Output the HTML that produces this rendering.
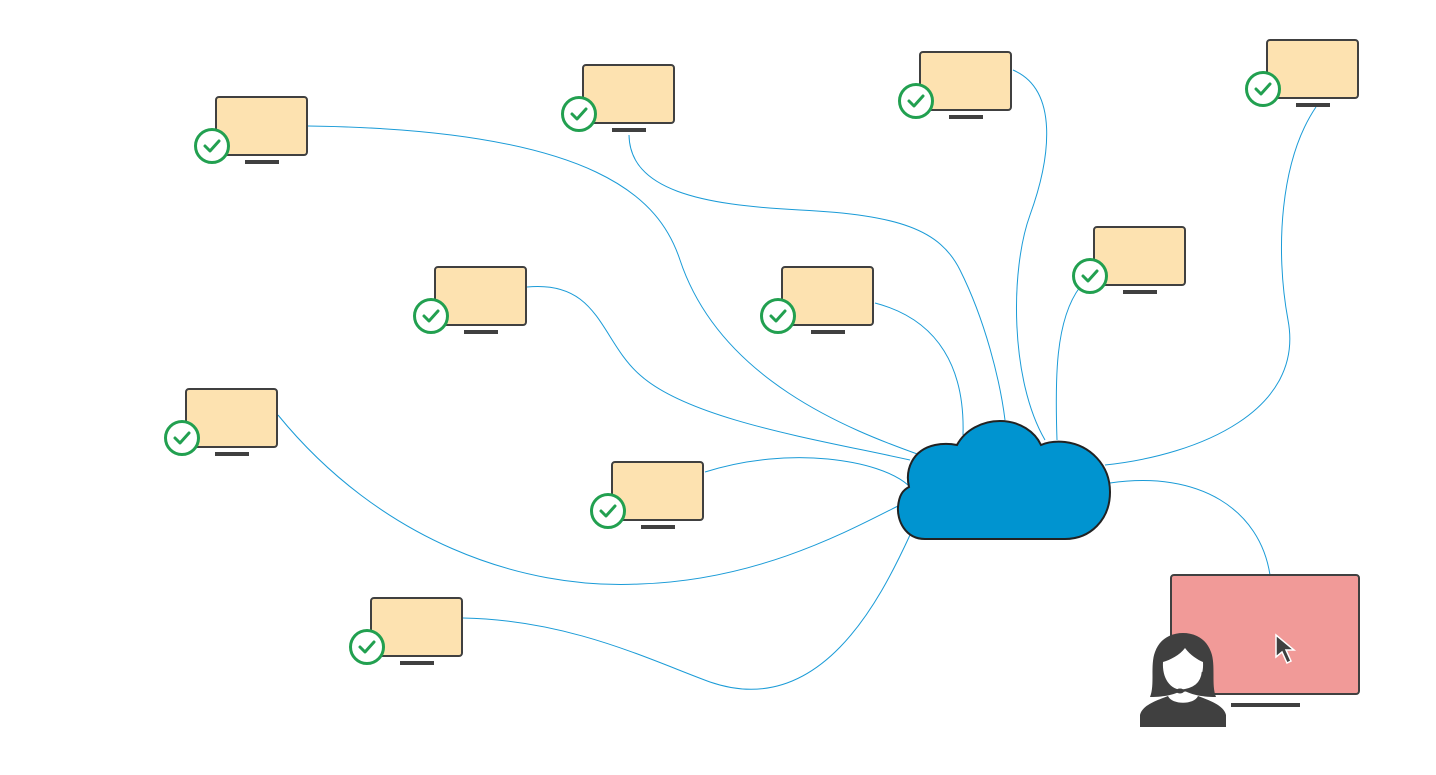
<!DOCTYPE html>
<html><head><style>html,body{margin:0;padding:0;background:#fff}svg{display:block}</style></head><body>
<svg width="1436" height="775" viewBox="0 0 1436 775" xmlns="http://www.w3.org/2000/svg">
<defs>
<g id="mon">
<rect x="1" y="1" width="91" height="58" rx="3" fill="#fde2b0" stroke="#404040" stroke-width="2"/>
<rect x="30" y="64" width="34" height="4" fill="#404040"/>
<circle cx="-3" cy="50" r="16.5" fill="#fff" stroke="#22a050" stroke-width="3"/>
<path d="M-10 50 L-5 55 L4 45" fill="none" stroke="#22a050" stroke-width="3" stroke-linecap="round" stroke-linejoin="round"/>
</g>
</defs>
<g fill="none" stroke="#1a9bd7" stroke-width="1">
<path d="M308 126 C600 130 660 200 680 260 C720 380 850 430 920 455"/>
<path d="M629 135 C630 190 700 205 800 210 C900 215 940 230 960 270 C985 320 1000 380 1005 420"/>
<path d="M1013 70 C1060 90 1050 160 1030 215 C1010 270 1010 380 1045 440"/>
<path d="M1316 107 C1280 160 1275 250 1288 320 C1305 410 1200 455 1105 465"/>
<path d="M1080 287 C1055 320 1055 380 1057 440"/>
<path d="M875 303 C940 320 965 370 963 435"/>
<path d="M527 287 C600 280 600 340 640 375 C690 420 820 440 910 460"/>
<path d="M278 415 C380 540 520 590 640 584 C760 580 850 530 900 505"/>
<path d="M705 472 C790 445 880 460 908 485"/>
<path d="M463 618 C570 620 650 660 710 682 C820 720 880 600 910 535"/>
<path d="M1110 483 C1200 470 1260 510 1270 575"/>
</g>
<path d="M925 539 C905 539 897 520 898 507 C899 495 903 490 909 487 C905 470 912 450 935 445 C945 443 952 444 957 445 C965 430 982 421 1000 421 C1020 421 1035 432 1041 445 C1048 442 1055 441 1065 442 C1090 445 1110 465 1110 492 C1110 520 1090 539 1065 539 Z" fill="#0094d0" stroke="#222" stroke-width="2"/>
<use href="#mon" x="215" y="96"/>
<use href="#mon" x="582" y="64"/>
<use href="#mon" x="919" y="51"/>
<use href="#mon" x="1266" y="39"/>
<use href="#mon" x="1093" y="226"/>
<use href="#mon" x="781" y="266"/>
<use href="#mon" x="434" y="266"/>
<use href="#mon" x="185" y="388"/>
<use href="#mon" x="611" y="461"/>
<use href="#mon" x="370" y="597"/>
<rect x="1171" y="575" width="188" height="119" rx="3" fill="#f19a98" stroke="#404040" stroke-width="2"/>
<rect x="1231" y="703" width="69" height="4" fill="#404040"/>
<path d="M1276 635 L1276 657 L1282 652 L1287 663 L1291 661 L1286 650 L1294 650 Z" fill="#404040" stroke="#fff" stroke-width="1.5"/>
<path d="M1140 727 L1140 715 C1142 705 1158 700 1168 696 L1198 696 C1208 700 1224 705 1226 715 L1226 727 Z" fill="#404040"/>
<path d="M1168 696 C1172 705 1194 705 1198 696 L1192 688 L1174 688 Z" fill="#fff"/>
<path d="M1150 697 C1155 685 1150 665 1155 652 C1160 638 1172 633 1183 633 C1194 633 1206 638 1211 652 C1216 665 1211 685 1216 697 C1200 697 1190 694 1183 690 C1176 694 1166 697 1150 697 Z" fill="#404040"/>
<path d="M1163 662 C1170 660 1180 655 1185 648 C1190 655 1198 660 1203 662 C1204 678 1196 690 1183 690 C1170 690 1162 678 1163 662 Z" fill="#fff"/>
<path d="M1203 672 C1202 685 1192 690 1180 691" fill="none" stroke="#404040" stroke-width="2.5"/>
<ellipse cx="1180" cy="691" rx="4" ry="2.5" fill="#404040"/>
</svg>
</body></html>
